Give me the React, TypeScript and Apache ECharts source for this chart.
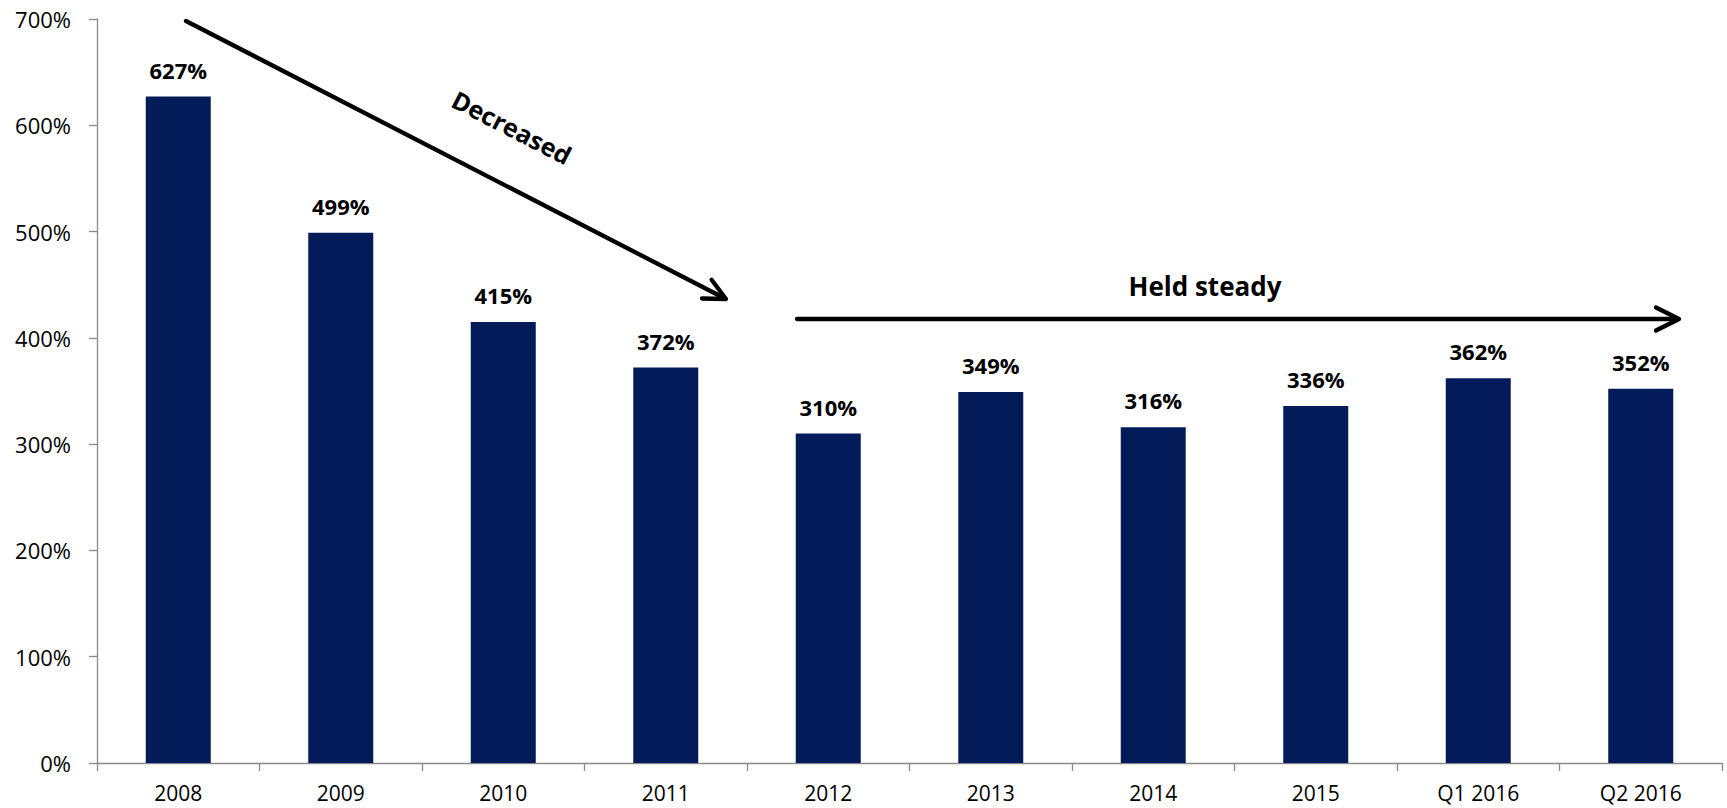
import React, { useEffect, useRef } from "react";
import * as echarts from "echarts";

const categories = ["2008", "2009", "2010", "2011", "2012", "2013", "2014", "2015", "Q1 2016", "Q2 2016"];
const values = [627, 499, 415, 372, 310, 349, 316, 336, 362, 352];
const yTicks = { min: 0, max: 700, interval: 100 };
const annotations = ["Decreased", "Held steady"];

const FONT = "'Open Sans', 'Noto Sans', sans-serif";
const BAR = "#031B58";
const AXIS = "#8A8A8A";

export default function App() {
  const ref = useRef<HTMLDivElement>(null);
  useEffect(() => {
    if (!ref.current) return;
    const chart = echarts.init(ref.current, null, { renderer: "svg" });
    const arrowStyle = { stroke: "#000", lineWidth: 4.3, lineCap: "round", lineJoin: "round", fill: null };
    chart.setOption({
      animation: false,
      backgroundColor: "#fff",
      grid: { left: 97, right: 5, top: 19, bottom: 45, containLabel: false },
      xAxis: {
        type: "category",
        data: categories,
        axisLine: { lineStyle: { color: AXIS, width: 1.3 } },
        axisTick: { show: true, length: 8, lineStyle: { color: AXIS, width: 1.3 } },
        axisLabel: { color: "#000", fontFamily: FONT, fontSize: 21, margin: 19 },
      },
      yAxis: {
        type: "value",
        min: yTicks.min,
        max: yTicks.max,
        interval: yTicks.interval,
        splitLine: { show: false },
        axisLine: { show: true, lineStyle: { color: AXIS, width: 1.3 } },
        axisTick: { show: true, length: 8, lineStyle: { color: AXIS, width: 1.3 } },
        axisLabel: { color: "#000", fontFamily: FONT, fontSize: 22, margin: 26, formatter: "{value}%" },
      },
      series: [
        {
          type: "bar",
          data: values,
          barWidth: "40%",
          itemStyle: { color: BAR },
          label: {
            show: true,
            position: "top",
            distance: 16,
            formatter: "{c}%",
            color: "#000",
            fontFamily: FONT,
            fontSize: 22,
            fontWeight: "bold",
          },
        },
      ],
      graphic: [
        { type: "line", shape: { x1: 186, y1: 21, x2: 725, y2: 298.5 }, style: arrowStyle },
        { type: "polyline", shape: { points: [[702, 298.5], [726, 299], [711.6, 279.8]] }, style: arrowStyle },
        {
          type: "text",
          x: 512,
          y: 127,
          rotation: -0.475,
          style: {
            text: annotations[0],
            fontFamily: FONT,
            fontSize: 25,
            fontWeight: "bold",
            fill: "#000",
            align: "center",
            verticalAlign: "middle",
          },
        },
        { type: "line", shape: { x1: 797, y1: 319, x2: 1678, y2: 319 }, style: arrowStyle },
        { type: "polyline", shape: { points: [[1656, 307.5], [1679, 319], [1656, 330.5]] }, style: arrowStyle },
        {
          type: "text",
          x: 1205,
          y: 286,
          style: {
            text: annotations[1],
            fontFamily: FONT,
            fontSize: 26,
            fontWeight: "bold",
            fill: "#000",
            align: "center",
            verticalAlign: "middle",
          },
        },
      ],
    });
    return () => chart.dispose();
  }, []);
  return (
    <div
      ref={ref}
      style={{ position: "fixed", left: 0, top: 0, width: "1727px", height: "808px", background: "#fff" }}
    />
  );
}
